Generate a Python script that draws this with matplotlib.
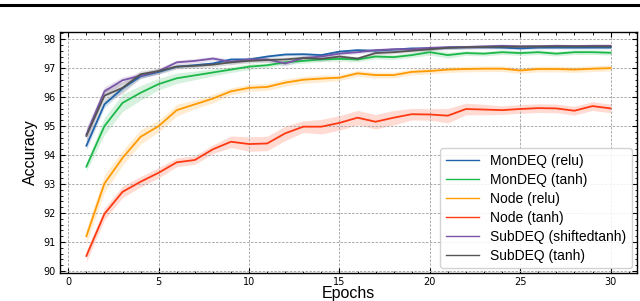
import matplotlib.pyplot as plt
from matplotlib.lines import Line2D
from matplotlib.ticker import AutoMinorLocator, MultipleLocator
import numpy as np

epochs = list(range(1, 31))

mondeq_relu = [94.32, 95.75, 96.30, 96.72, 96.87, 97.05, 97.10, 97.16, 97.30, 97.30,
               97.40, 97.47, 97.48, 97.45, 97.57, 97.62, 97.60, 97.64, 97.68, 97.68,
               97.71, 97.72, 97.72, 97.71, 97.68, 97.71, 97.71, 97.71, 97.71, 97.71]
mondeq_tanh = [93.60, 95.00, 95.80, 96.15, 96.45, 96.65, 96.75, 96.85, 96.95, 97.05,
               97.10, 97.20, 97.25, 97.30, 97.32, 97.30, 97.40, 97.38, 97.45, 97.55,
               97.45, 97.52, 97.50, 97.55, 97.52, 97.55, 97.50, 97.55, 97.55, 97.53]
node_relu = [91.20, 93.02, 93.90, 94.63, 95.00, 95.55, 95.75, 95.95, 96.20, 96.32,
             96.35, 96.50, 96.60, 96.64, 96.67, 96.82, 96.76, 96.76, 96.87, 96.90,
             96.95, 96.97, 96.98, 96.98, 96.92, 96.97, 96.97, 96.95, 96.98, 97.00]
node_tanh = [90.52, 91.97, 92.73, 93.08, 93.39, 93.75, 93.83, 94.20, 94.46, 94.38,
             94.40, 94.75, 94.98, 94.98, 95.11, 95.29, 95.15, 95.29, 95.41, 95.40,
             95.36, 95.59, 95.57, 95.55, 95.59, 95.62, 95.61, 95.53, 95.69, 95.61]
subdeq_shifted = [94.71, 96.20, 96.58, 96.74, 96.90, 97.20, 97.25, 97.33, 97.22, 97.30,
                  97.30, 97.16, 97.35, 97.40, 97.50, 97.55, 97.62, 97.65, 97.65, 97.70,
                  97.72, 97.73, 97.75, 97.77, 97.75, 97.75, 97.77, 97.76, 97.77, 97.77]
subdeq_tanh = [94.66, 96.05, 96.32, 96.79, 96.90, 97.05, 97.08, 97.12, 97.20, 97.25,
               97.28, 97.30, 97.35, 97.32, 97.40, 97.33, 97.52, 97.55, 97.60, 97.65,
               97.70, 97.72, 97.73, 97.74, 97.74, 97.75, 97.75, 97.75, 97.75, 97.75]

# half-widths of the shaded bands
spread_relu = [0.15, 0.12, 0.10, 0.08, 0.07, 0.06, 0.06, 0.05, 0.05, 0.05,
               0.05, 0.05, 0.05, 0.05, 0.05, 0.05, 0.05, 0.05, 0.05, 0.05,
               0.05, 0.05, 0.05, 0.05, 0.05, 0.05, 0.05, 0.05, 0.05, 0.05]
spread_tanh = [0.15, 0.30, 0.30, 0.25, 0.20, 0.18, 0.15, 0.12, 0.10, 0.10,
               0.08, 0.08, 0.08, 0.08, 0.08, 0.08, 0.08, 0.08, 0.08, 0.10,
               0.10, 0.08, 0.08, 0.08, 0.08, 0.08, 0.08, 0.08, 0.08, 0.08]
spread_node_relu = [0.25, 0.30, 0.25, 0.25, 0.20, 0.20, 0.15, 0.15, 0.12, 0.12,
                    0.12, 0.12, 0.12, 0.12, 0.10, 0.10, 0.10, 0.10, 0.10, 0.10,
                    0.10, 0.10, 0.10, 0.10, 0.10, 0.10, 0.10, 0.10, 0.10, 0.10]
spread_node_tanh = [0.20, 0.20, 0.20, 0.18, 0.18, 0.15, 0.15, 0.15, 0.20, 0.25,
                    0.25, 0.25, 0.20, 0.25, 0.25, 0.25, 0.25, 0.25, 0.20, 0.20,
                    0.25, 0.20, 0.18, 0.15, 0.15, 0.15, 0.15, 0.15, 0.15, 0.15]
spread_sub_shifted = [0.25, 0.15, 0.12, 0.10, 0.10, 0.08, 0.08, 0.08, 0.08, 0.08,
                      0.08, 0.08, 0.08, 0.08, 0.06, 0.06, 0.06, 0.06, 0.06, 0.06,
                      0.06, 0.06, 0.06, 0.06, 0.06, 0.06, 0.06, 0.06, 0.06, 0.06]
spread_sub_tanh = [0.25, 0.25, 0.20, 0.12, 0.10, 0.08, 0.08, 0.08, 0.08, 0.08,
                   0.08, 0.08, 0.08, 0.08, 0.06, 0.06, 0.06, 0.06, 0.06, 0.06,
                   0.06, 0.06, 0.06, 0.06, 0.06, 0.06, 0.06, 0.06, 0.06, 0.06]

labels = ['MonDEQ (relu)', 'MonDEQ (tanh)', 'Node (relu)', 'Node (tanh)',
          'SubDEQ (shiftedtanh)', 'SubDEQ (tanh)']
series = [mondeq_relu, mondeq_tanh, node_relu, node_tanh, subdeq_shifted, subdeq_tanh]
spreads = [spread_relu, spread_tanh, spread_node_relu, spread_node_tanh,
           spread_sub_shifted, spread_sub_tanh]
colors = ['#1f63aa', '#1cb84a', '#ff9a00', '#ff3a12', '#7a55a8', '#555555']

fig = plt.figure(figsize=(6.4, 3.01), dpi=100)
ax = fig.add_axes([0.094, 0.093, 0.901, 0.801])

for y, s, c, lab in zip(series, spreads, colors, labels):
    y = np.array(y)
    s = np.array(s)
    ax.fill_between(epochs, y - s, y + s, color=c, alpha=0.18, lw=0)
    ax.plot(epochs, y, color=c, lw=1.3, label=lab)

ax.set_xlim(-0.45, 31.45)
ax.set_ylim(89.93, 98.25)
ax.xaxis.set_major_locator(MultipleLocator(5))
ax.yaxis.set_major_locator(MultipleLocator(1))
ax.xaxis.set_minor_locator(AutoMinorLocator(5))
ax.yaxis.set_minor_locator(AutoMinorLocator(5))
ax.tick_params(which='both', direction='in', top=True, right=True, labelsize=7)
ax.tick_params(which='major', length=3.5, width=0.8, pad=3)
ax.tick_params(which='minor', length=1.8, width=0.6)
ax.grid(True, which='major', ls=(0, (2.5, 1.5)), color='#aaaaaa', lw=0.7)
for sp in ax.spines.values():
    sp.set_linewidth(1.0)

ax.set_xlabel('Epochs', family='Liberation Sans', fontsize=11.5, labelpad=-1)
ax.set_ylabel('Accuracy', family='Liberation Sans', fontsize=11.5, labelpad=4)

leg = ax.legend(loc='lower right', prop={'family': 'Liberation Sans', 'size': 10},
                handlelength=2.4, labelspacing=0.36, borderaxespad=0.35,
                framealpha=0.85, edgecolor='#cccccc')
for h in leg.get_lines():
    h.set_linewidth(1.0)

# page rule at the top of the crop
fig.add_artist(Line2D([0, 1], [0.984, 0.984], transform=fig.transFigure,
                      color='black', lw=2.2))

plt.savefig('out.png', dpi=100)
